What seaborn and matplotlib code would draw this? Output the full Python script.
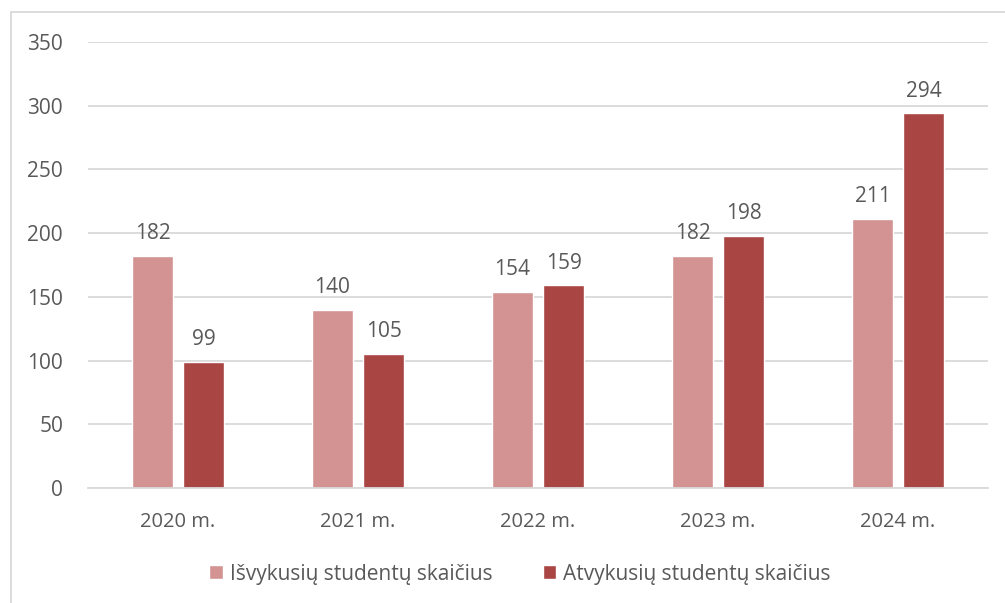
import matplotlib
matplotlib.use("Agg")
import matplotlib.pyplot as plt
import seaborn as sns
import pandas as pd
from matplotlib.patches import Rectangle

years = ["2020 m.", "2021 m.", "2022 m.", "2023 m.", "2024 m."]
series_names = ["Išvykusių studentų skaičius", "Atvykusių studentų skaičius"]
outgoing = [182, 140, 154, 182, 211]
incoming = [99, 105, 159, 198, 294]
yticks = [0, 50, 100, 150, 200, 250, 300, 350]

colors = ["#D39393", "#A94644"]
text_color = "#595959"
grid_color = "#D9D9D9"

df = pd.DataFrame({
    "year": years * 2,
    "series": [series_names[0]] * len(years) + [series_names[1]] * len(years),
    "value": outgoing + incoming,
})

sns.set_theme(style="white")
plt.rcParams['font.family'] = ['Open Sans', 'DejaVu Sans']

fig = plt.figure(figsize=(10.05, 6.03), dpi=100)
ax = fig.add_axes([88/1005, 1 - 488/603, 900/1005, 446/603])

sns.barplot(data=df, x="year", y="value", hue="series", palette=colors,
            width=0.567, gap=0.2, ax=ax, saturation=1, legend=True)

ax.set_ylim(0, 350)
ax.set_xlim(-0.5, len(years) - 0.5)
ax.set_yticks(yticks)
ax.set_xlabel("")
ax.set_ylabel("")
ax.grid(axis="y", color=grid_color, linewidth=1.3)
ax.set_axisbelow(True)
for s in ["top", "right", "left"]:
    ax.spines[s].set_visible(False)
ax.spines["bottom"].set_color(grid_color)
ax.spines["bottom"].set_linewidth(1.3)
ax.tick_params(axis="both", length=0, labelcolor=text_color)
ax.tick_params(axis="y", pad=18, labelsize=15)
ax.tick_params(axis="x", pad=17, labelsize=14.5)

for cont in ax.containers:
    ax.bar_label(cont, padding=8.5, fontsize=15, color=text_color)

leg = ax.legend(loc="center", bbox_to_anchor=(0.48, -0.193), ncol=2,
                frameon=False, fontsize=15, handlelength=0.65, handleheight=0.65,
                handletextpad=0.35, columnspacing=2.4)
for t in leg.get_texts():
    t.set_color(text_color)

fig.patches.append(Rectangle((11/1005, -0.05), 1.1, 1 - 12/603 + 0.05,
                             transform=fig.transFigure, fill=False,
                             edgecolor=grid_color, linewidth=1.3, clip_on=False))

fig.savefig("out.png", dpi=100, facecolor="white")
